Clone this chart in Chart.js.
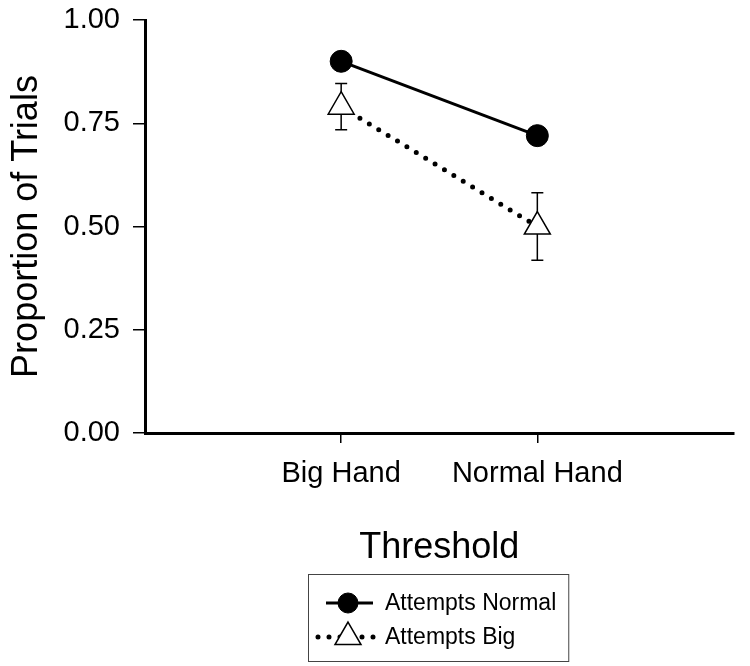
<!DOCTYPE html>
<html>
<head>
    <title>Proportion of Trials</title>
    <meta charset="utf-8" />
    <style>
        html, body { margin: 0; padding: 0; background: #fff; }
        #wrap { width: 750px; height: 666px; }
    </style>
    <script src="https://cdn.jsdelivr.net/npm/chart.js"></script>
</head>
<body>
<div id="wrap"><canvas id="myChart"></canvas></div>
<script>
let categories = ['Big Hand', 'Normal Hand'];
let attemptsNormal = [0.90, 0.72];
let attemptsBig = [0.79, 0.50];
let attemptsBigErr = [0.056, 0.082];
let yTicks = [0, 0.25, 0.5, 0.75, 1];
let seriesNames = ['Attempts Normal', 'Attempts Big'];

const FONT = "'Liberation Sans', Arial, sans-serif";

function points(values) {
    return categories.map((c, i) => ({ x: i + 1, y: values[i] }));
}

// error bars on the triangles, drawn under the markers
const errorBars = {
    id: 'errorBars',
    beforeDatasetsDraw(chart) {
        let ctx = chart.ctx;
        let xs = chart.scales.x, ys = chart.scales.y;
        ctx.save();
        ctx.strokeStyle = '#000';
        ctx.lineWidth = 1.5;
        attemptsBig.forEach((v, i) => {
            let x = xs.getPixelForValue(i + 1);
            let top = ys.getPixelForValue(v + attemptsBigErr[i]);
            let bot = ys.getPixelForValue(v - attemptsBigErr[i]);
            ctx.beginPath();
            ctx.moveTo(x, top); ctx.lineTo(x, bot);
            ctx.moveTo(x - 6, top); ctx.lineTo(x + 6, top);
            ctx.moveTo(x - 6, bot); ctx.lineTo(x + 6, bot);
            ctx.stroke();
        });
        ctx.restore();
    }
};

// boxed legend below the axis title, line + marker for each series
const boxLegend = {
    id: 'boxLegend',
    afterDraw(chart) {
        let ctx = chart.ctx;
        let area = chart.chartArea;
        let left = area.left + 163, top = area.bottom + 141;
        ctx.save();
        ctx.font = '23px ' + FONT;
        let textW = Math.max(...seriesNames.map(s => ctx.measureText(s).width));
        let w = 77 + textW + 12, h = 87;
        ctx.strokeStyle = '#444';
        ctx.lineWidth = 1;
        ctx.strokeRect(left + 0.5, top + 0.5, w, h);

        chart.data.datasets.forEach((ds, i) => {
            let y = top + 29 + i * 34;
            let cx = left + 40;
            ctx.save();
            ctx.strokeStyle = '#000';
            ctx.lineWidth = ds.borderWidth;
            ctx.lineCap = ds.borderCapStyle || 'butt';
            ctx.setLineDash(ds.borderDash || []);
            ctx.beginPath();
            if (ds.borderDash) {
                ctx.moveTo(left + 10, y); ctx.lineTo(left + 70, y);
            } else {
                ctx.moveTo(left + 18, y); ctx.lineTo(left + 65, y);
            }
            ctx.stroke();
            ctx.restore();
            ctx.fillStyle = ds.pointBackgroundColor;
            ctx.strokeStyle = '#000';
            ctx.lineWidth = ds.pointBorderWidth;
            Chart.helpers.drawPoint(ctx, {
                pointStyle: ds.pointStyle,
                radius: ds.pointStyle === 'circle' ? 10 : 15,
                rotation: 0,
                borderWidth: ds.pointBorderWidth
            }, cx, y);
            ctx.fillStyle = '#000';
            ctx.font = '23px ' + FONT;
            ctx.textBaseline = 'middle';
            ctx.fillText(ds.label, left + 77, y + 1);
        });
        ctx.restore();
    }
};

let ctx = document.getElementById('myChart').getContext('2d');
let myChart = new Chart(ctx, {
    type: 'line',
    data: {
        datasets: [
            {
                label: seriesNames[0],
                data: points(attemptsNormal),
                borderColor: '#000',
                borderWidth: 3,
                pointStyle: 'circle',
                pointRadius: 11,
                pointBackgroundColor: '#000',
                pointBorderColor: '#000',
                pointBorderWidth: 1
            },
            {
                label: seriesNames[1],
                data: points(attemptsBig),
                borderColor: '#000',
                borderWidth: 5,
                borderDash: [0, 11],
                borderCapStyle: 'round',
                pointStyle: 'triangle',
                pointRadius: 15,
                pointBackgroundColor: '#fff',
                pointBorderColor: '#000',
                pointBorderWidth: 1.5
            }
        ]
    },
    options: {
        responsive: true,
        maintainAspectRatio: false,
        animation: false,
        layout: { padding: { left: 0, right: 12, top: 20, bottom: 96 } },
        plugins: {
            legend: { display: false },
            tooltip: { enabled: false }
        },
        scales: {
            x: {
                type: 'linear',
                min: 0,
                max: 3,
                afterBuildTicks: s => { s.ticks = categories.map((c, i) => ({ value: i + 1 })); },
                afterFit: s => { s.height = 137; },
                ticks: {
                    callback: v => categories[v - 1],
                    font: { family: FONT, size: 29 },
                    color: '#000',
                    padding: 14,
                    maxRotation: 0,
                    autoSkip: false
                },
                grid: { drawOnChartArea: false, tickLength: 10, color: '#000', lineWidth: 1.5 },
                border: { color: '#000', width: 3 },
                title: {
                    display: true,
                    text: 'Threshold',
                    color: '#000',
                    font: { family: FONT, size: 36 },
                    padding: 0
                }
            },
            y: {
                min: 0,
                max: 1,
                afterBuildTicks: s => { s.ticks = yTicks.map(v => ({ value: v })); },
                afterFit: s => { s.width = 145; s.paddingTop = 2; s.paddingBottom = 2; },
                ticks: {
                    callback: v => v.toFixed(2),
                    font: { family: FONT, size: 29 },
                    color: '#000',
                    padding: 13
                },
                grid: { drawOnChartArea: false, tickLength: 12, color: '#000', lineWidth: 1.5 },
                border: { color: '#000', width: 3 },
                title: {
                    display: true,
                    text: 'Proportion of Trials',
                    color: '#000',
                    font: { family: FONT, size: 36 },
                    padding: { top: 5, bottom: 0 }
                }
            }
        }
    },
    plugins: [errorBars, boxLegend]
});
</script>
</body>
</html>
